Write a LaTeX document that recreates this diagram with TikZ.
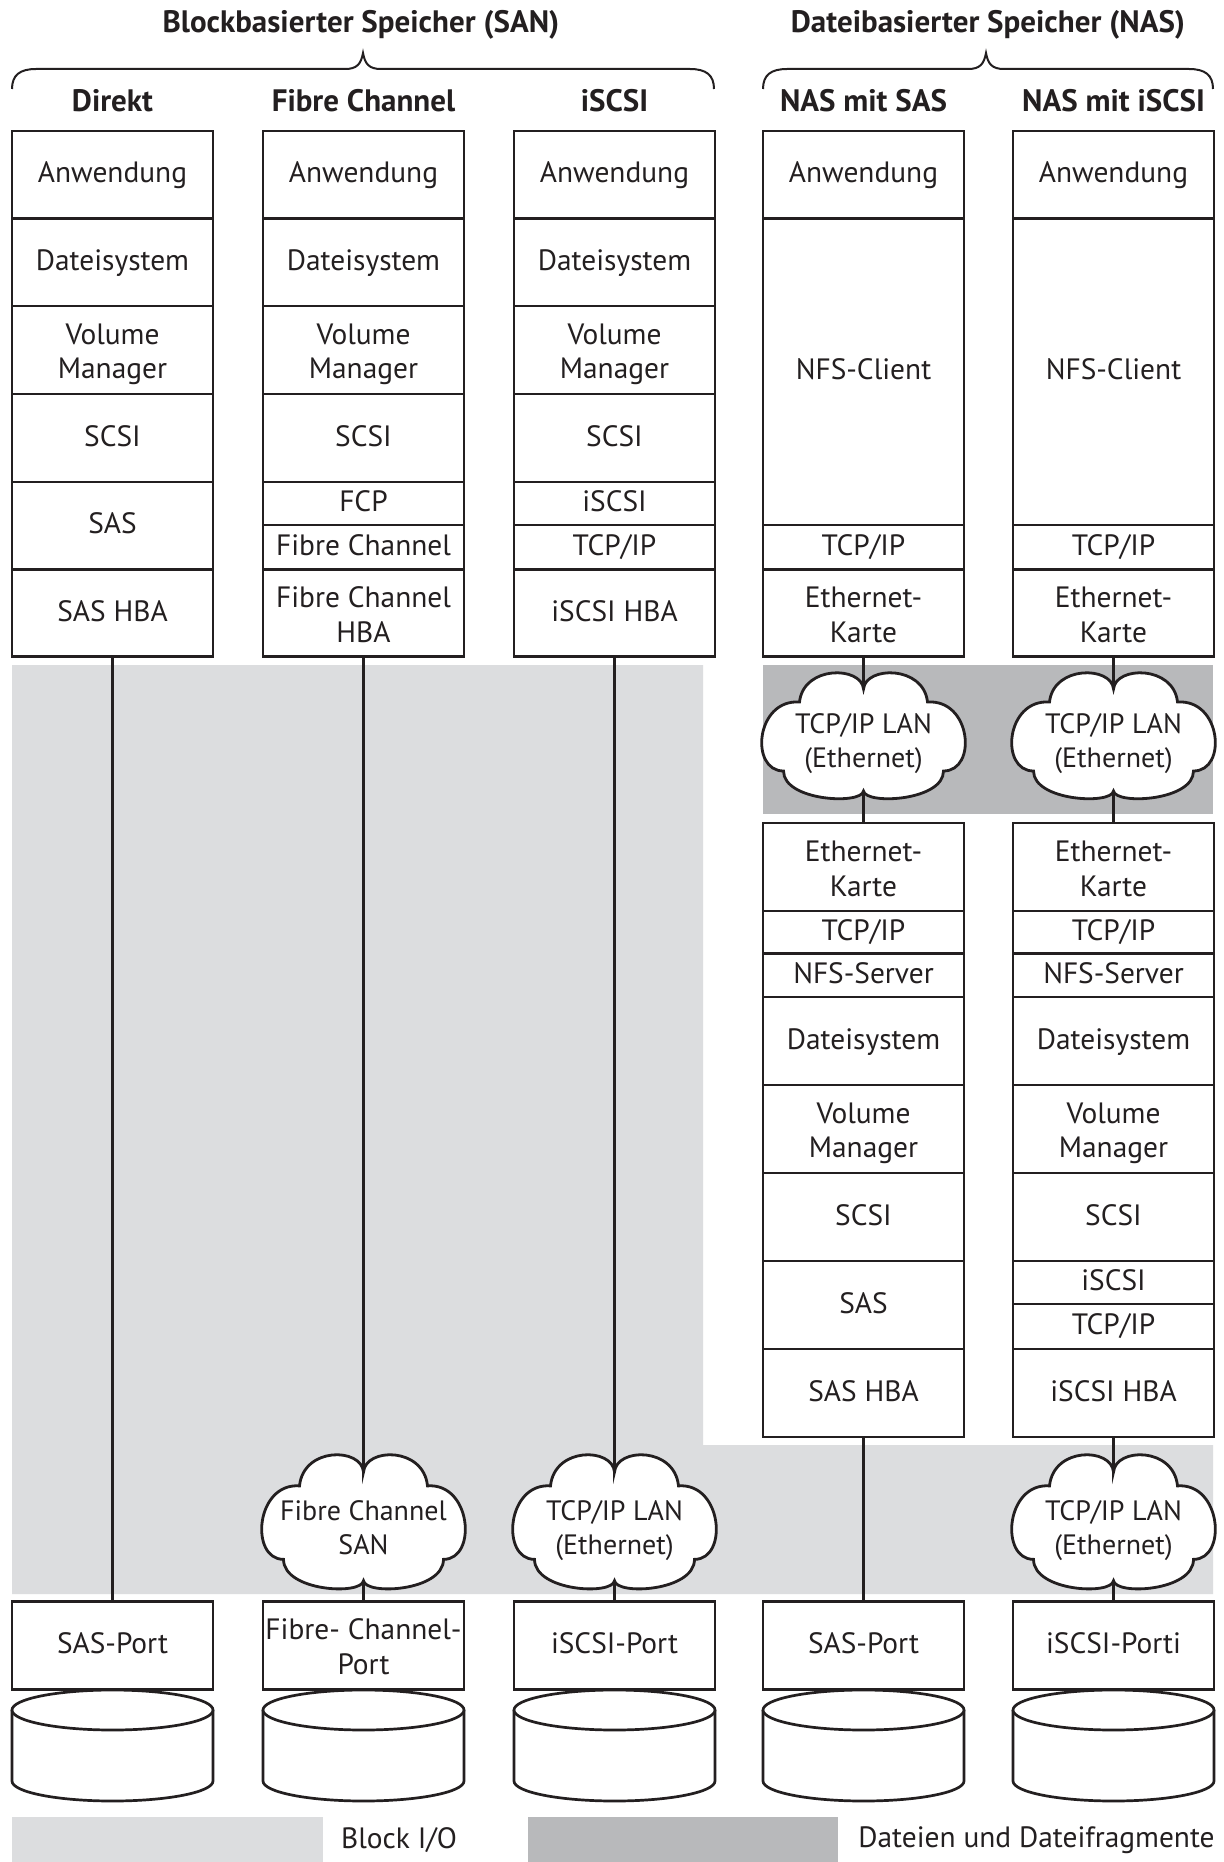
\documentclass[tikz,border=0pt]{standalone}
\usepackage{fontspec}
\setmainfont{PT Sans}
\definecolor{lgray}{RGB}{220,221,223}
\definecolor{dgray}{RGB}{184,185,187}
\definecolor{ink}{RGB}{35,31,32}
\newcommand\tup{\rule{0pt}{14.5pt}}
\newcommand\tdn{\rule[-2.8pt]{0pt}{2.8pt}}
\newcommand\lay[5]{\node[layer, minimum height={(#4-#3)*0.5pt}] (#1) at (#2,{(#3+#4)/2}) {#5};}
\newcommand\layy[6]{\node[layertwo, minimum height={(#4-#3)*0.5pt}] (#1) at (#2,{(#3+#4)/2}) {\tup #5\\#6\tdn};}
\newcommand\cloudshape[3]{%
  \begin{scope}[shift={(#1,#2)}, yscale=#3]
    \filldraw[cloudline] (0,-46) .. controls (2,-69) and (60,-70) .. (64,-33)
      .. controls (108,-36) and (114,36) .. (80,36)
      .. controls (80,66) and (2,70) .. (0,56)
      .. controls (-2,70) and (-80,66) .. (-80,36)
      .. controls (-114,36) and (-108,-36) .. (-64,-33)
      .. controls (-60,-70) and (-2,-69) .. cycle;
  \end{scope}}
\newcommand\diskat[1]{%
  \filldraw[diskline] (#1-100.5,1710) -- (#1-100.5,1781)
    arc[start angle=180, end angle=360, x radius=50.25pt, y radius=10pt] -- (#1+100.5,1710);
  \filldraw[diskline] (#1,1710) ellipse[x radius=50.25pt, y radius=10pt];}
\newcommand\bracepath[3]{% x1 x2 xm
  \draw[braceline] (#1,89) .. controls (#1,75) and (#1+8,69) .. (#1+24,69) -- (#3-18,69)
    .. controls (#3-6,69) and (#3-2,64) .. (#3,53)
    .. controls (#3+2,64) and (#3+6,69) .. (#3+18,69) -- (#2-24,69)
    .. controls (#2-8,69) and (#2,75) .. (#2,89);}
\begin{document}
\begin{tikzpicture}[x=0.5pt,y=-0.5pt,
  every node/.style={text=ink},
  layerbase/.style={draw=ink, line width=1.35pt, fill=white, minimum width=100.5pt, inner sep=0pt,
    align=center, font=\fontsize{14.7}{17.3}\selectfont},
  layer/.style={layerbase, text height=0.8em, text depth=0em},
  layertwo/.style={layerbase},
  head/.style={inner sep=0pt, font=\fontsize{15.5}{18}\selectfont\bfseries},
  txt/.style={inner sep=0pt, font=\fontsize{14.7}{17.3}\selectfont},
  cloudtxt/.style={inner sep=0pt, align=center, font=\fontsize{14}{17.2}\selectfont},
  cloudnode/.style={inner sep=0pt, minimum width=100pt},
  cloudline/.style={draw=ink, fill=white, line width=1.4pt},
  diskline/.style={draw=ink, fill=white, line width=1.35pt},
  braceline/.style={draw=ink, line width=1pt},
  conn/.style={draw=ink, line width=1.65pt}]
\def\xa{112.5}\def\xb{363.5}\def\xc{614.5}\def\xd{863.5}\def\xe{1113.5}
\useasboundingbox (0,0) rectangle (1224,1862);
\fill[white] (0,0) rectangle (1224,1862);
% background areas
\fill[lgray] (12,665) -- (703,665) -- (703,1445) -- (1213,1445) -- (1213,1594) -- (12,1594) -- cycle;
\fill[dgray] (763,665) rectangle (1213,814);
% titles and braces
\node[head] (tsan) at (361,25) {Blockbasierter Speicher (SAN)};
\node[head] (tnas) at (988,25) {Dateibasierter Speicher (NAS)};
\bracepath{12}{714}{363}
\bracepath{763}{1213}{986}
\node[head] (ha) at (\xa,101) {Direkt};
\node[head] (hb) at (\xb,101) {Fibre Channel};
\node[head] (hc) at (\xc,101) {iSCSI};
\node[head] (hd) at (\xd,101) {NAS mit SAS};
\node[head] (he) at (\xe,101) {NAS mit iSCSI};
% column 1
\lay{a1}{\xa}{131}{218.5}{Anwendung}
\lay{a2}{\xa}{218.5}{306}{Dateisystem}
\layy{a3}{\xa}{306}{394}{Volume}{Manager}
\lay{a4}{\xa}{394}{482}{SCSI}
\lay{a5}{\xa}{482}{569.5}{SAS}
\lay{a6}{\xa}{569.5}{656.5}{SAS HBA}
% column 2
\lay{b1}{\xb}{131}{218.5}{Anwendung}
\lay{b2}{\xb}{218.5}{306}{Dateisystem}
\layy{b3}{\xb}{306}{394}{Volume}{Manager}
\lay{b4}{\xb}{394}{482}{SCSI}
\lay{b5}{\xb}{482}{525}{FCP}
\lay{b6}{\xb}{525}{569.5}{Fibre Channel}
\layy{b7}{\xb}{569.5}{656.5}{Fibre Channel}{HBA}
% column 3
\lay{c1}{\xc}{131}{218.5}{Anwendung}
\lay{c2}{\xc}{218.5}{306}{Dateisystem}
\layy{c3}{\xc}{306}{394}{Volume}{Manager}
\lay{c4}{\xc}{394}{482}{SCSI}
\lay{c5}{\xc}{482}{525}{iSCSI}
\lay{c6}{\xc}{525}{569.5}{TCP/IP}
\lay{c7}{\xc}{569.5}{656.5}{iSCSI HBA}
% column 4 client
\lay{d1}{\xd}{131}{218.5}{Anwendung}
\lay{d2}{\xd}{218.5}{525}{NFS-Client}
\lay{d3}{\xd}{525}{569.5}{TCP/IP}
\layy{d4}{\xd}{569.5}{656.5}{Ethernet-}{Karte}
% column 5 client
\lay{e1}{\xe}{131}{218.5}{Anwendung}
\lay{e2}{\xe}{218.5}{525}{NFS-Client}
\lay{e3}{\xe}{525}{569.5}{TCP/IP}
\layy{e4}{\xe}{569.5}{656.5}{Ethernet-}{Karte}
% column 4 server
\layy{d5}{\xd}{823}{911}{Ethernet-}{Karte}
\lay{d6}{\xd}{911}{953.5}{TCP/IP}
\lay{d7}{\xd}{953.5}{997}{NFS-Server}
\lay{d8}{\xd}{997}{1085}{Dateisystem}
\layy{d9}{\xd}{1085}{1173}{Volume}{Manager}
\lay{d10}{\xd}{1173}{1261}{SCSI}
\lay{d11}{\xd}{1261}{1349}{SAS}
\lay{d12}{\xd}{1349}{1437}{SAS HBA}
% column 5 server
\layy{e5}{\xe}{823}{911}{Ethernet-}{Karte}
\lay{e6}{\xe}{911}{953.5}{TCP/IP}
\lay{e7}{\xe}{953.5}{997}{NFS-Server}
\lay{e8}{\xe}{997}{1085}{Dateisystem}
\layy{e9}{\xe}{1085}{1173}{Volume}{Manager}
\lay{e10}{\xe}{1173}{1261}{SCSI}
\lay{e11}{\xe}{1261}{1304}{iSCSI}
\lay{e12}{\xe}{1304}{1349}{TCP/IP}
\lay{e13}{\xe}{1349}{1437}{iSCSI HBA}
% ports
\lay{pa}{\xa}{1601.5}{1689.5}{SAS-Port}
\layy{pb}{\xb}{1601.5}{1689.5}{Fibre- Channel-}{Port}
\lay{pc}{\xc}{1601.5}{1689.5}{iSCSI-Port}
\lay{pd}{\xd}{1601.5}{1689.5}{SAS-Port}
\lay{pe}{\xe}{1601.5}{1689.5}{iSCSI-Porti}
% disks
\diskat{\xa}\diskat{\xb}\diskat{\xc}\diskat{\xd}\diskat{\xe}
% clouds
\cloudshape{\xd}{735}{1}
\node[cloudnode, minimum height=51pt, label={[cloudtxt, yshift=-1.8pt]center:{\strut TCP/IP LAN\\\strut (Ethernet)}}] (kd) at (\xd,740) {};
\cloudshape{\xe}{735}{1}
\node[cloudnode, minimum height=51pt, label={[cloudtxt, yshift=-1.8pt]center:{\strut TCP/IP LAN\\\strut (Ethernet)}}] (ke) at (\xe,740) {};
\cloudshape{\xb}{1521}{1.065}
\node[cloudnode, minimum height=54.3pt, label={[cloudtxt, yshift=-2.2pt]center:{\strut Fibre Channel\\\strut SAN}}] (kb) at (\xb,1526.3) {};
\cloudshape{\xc}{1521}{1.065}
\node[cloudnode, minimum height=54.3pt, label={[cloudtxt, yshift=-2.2pt]center:{\strut TCP/IP LAN\\\strut (Ethernet)}}] (kc) at (\xc,1526.3) {};
\cloudshape{\xe}{1521}{1.065}
\node[cloudnode, minimum height=54.3pt, label={[cloudtxt, yshift=-2.2pt]center:{\strut TCP/IP LAN\\\strut (Ethernet)}}] (kf) at (\xe,1526.3) {};
% connectors
\draw[conn] (a6.south) -- (pa.north);
\draw[conn] (b7.south) -- (kb.north);
\draw[conn] (kb.south) -- (pb.north);
\draw[conn] (c7.south) -- (kc.north);
\draw[conn] (kc.south) -- (pc.north);
\draw[conn] (d4.south) -- (kd.north);
\draw[conn] (kd.south) -- (d5.north);
\draw[conn] (e4.south) -- (ke.north);
\draw[conn] (ke.south) -- (e5.north);
\draw[conn] (d12.south) -- (pd.north);
\draw[conn] (e13.south) -- (kf.north);
\draw[conn] (kf.south) -- (pe.north);
% legend
\fill[lgray] (12,1817) rectangle (323,1862);
\fill[dgray] (528,1817) rectangle (838,1862);
\node[txt] (lblock) at (399,1840) {Block I/O};
\node[txt, anchor=east] (lfile) at (1215,1840) {Dateien und Dateifragmente};
\end{tikzpicture}
\end{document}
